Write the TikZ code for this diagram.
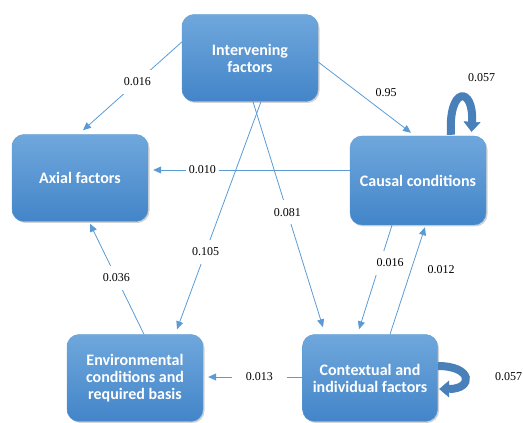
\documentclass[tikz,border=0pt]{standalone}
\usepackage{fontspec}
\setmainfont{Liberation Serif}
\newfontfamily\boxfont{Carlito}
\usepackage{tikz}
\usetikzlibrary{positioning,arrows.meta,calc,shadows}
\definecolor{boxTop}{HTML}{6FA7DC}
\definecolor{boxDeep}{HTML}{4385C9}
\definecolor{boxEdge}{HTML}{5B9BD5}
\definecolor{linkBlue}{HTML}{5B9BD5}
\definecolor{loopBlue}{HTML}{4A80BA}

\begin{document}
\begin{tikzpicture}[x=1pt, y=1pt, >=Stealth,
    factor/.style={rounded corners=12pt, top color=boxTop, bottom color=boxDeep,
      draw=boxEdge, line width=0.4pt, minimum width=136pt, minimum height=87pt,
      inner sep=0pt, align=center, text=white,
      font=\boxfont\bfseries\fontsize{16}{17}\selectfont,
      drop shadow={shadow xshift=1.5pt, shadow yshift=-1.5pt, opacity=.35}},
    link/.style={draw=linkBlue, line width=0.8pt, -{Triangle[length=8pt,width=7pt]}},
    coef/.style={fill=white, inner xsep=3pt, inner ysep=8pt, text=black,
      font=\fontsize{12}{14}\selectfont},
    feedback/.style={draw=loopBlue, line width=8pt,
      -{Triangle[length=10pt,width=17pt,line width=0.5pt]}}]
  \useasboundingbox (0,0) rectangle (523,423);
  % the five groups of factors
  \node[factor] (inter) at (250,365) {Intervening\\factors};
  \node[factor] (axial) at (80,245) {Axial factors};
  \node[factor, minimum height=89pt] (causal) at (418,242.5) {Causal conditions};
  \node[factor] (env) at (135,45) {Environmental\\conditions and\\required basis};
  \node[factor, minimum width=135pt] (ctx) at (370,45) {Contextual and\\individual factors};
  % path coefficients
  \draw[link] ($(inter.west)+(0,16)$) -- ($(axial.north)+(3,4)$) node[coef, pos=.45] (c1) {0.016};
  \draw[link] ($(inter.east)+(0,-4)$) -- ($(causal.north)+(-7,3)$) node[coef, pos=.58, xshift=14pt, yshift=10pt, inner ysep=3pt] (c2) {0.95};
  \draw[link] ($(causal.west)+(0,10.5)$) -- ($(axial.east)+(5,8)$) node[coef, pos=.75, inner ysep=3pt] (c3) {0.010};
  \draw[link] ($(inter.south)+(11,0)$) -- ($(env.north)+(42,5)$) node[coef, pos=.66] (c4) {0.105};
  \draw[link] ($(inter.south)+(3,0)$) -- ($(ctx.north)+(-47,7)$) node[coef, pos=.49] (c5) {0.081};
  \draw[link] ($(env.north)+(9,0)$) -- ($(axial.south)+(10,-2)$) node[coef, pos=.51] (c6) {0.036};
  \draw[link] ($(causal.south)+(-26,0)$) -- ($(ctx.north)+(-11,5)$) node[coef, pos=.36, xshift=10pt] (c7) {0.016};
  \draw[link] ($(ctx.north)+(20,0)$) -- ($(causal.south)+(7,-2)$) node[coef, pos=.6, xshift=30pt] (c8) {0.012};
  \draw[link] ($(ctx.west)+(0,1)$) -- ($(env.east)+(5,1)$) node[coef, pos=.457, inner xsep=14pt, inner ysep=3pt] (c9) {0.013};
  % self loops
  \draw[feedback] ($(causal.north)+(33,1)$) .. controls ($(causal.north)+(30,50)$) and ($(causal.north)+(56,50)$) .. ($(causal.north)+(53.5,4)$);
  \node[coef, inner ysep=2pt] (lc) at ($(causal.north)+(63.5,58)$) {0.057};
  \draw[feedback] ($(ctx.east)+(0,12)$) .. controls ($(ctx.east)+(35.5,12)$) and ($(ctx.east)+(35.5,-11)$) .. ($(ctx.east)+(1.5,-11)$);
  \node[coef, inner ysep=2pt] (lx) at ($(ctx.east)+(71,1)$) {0.057};
\end{tikzpicture}
\end{document}
